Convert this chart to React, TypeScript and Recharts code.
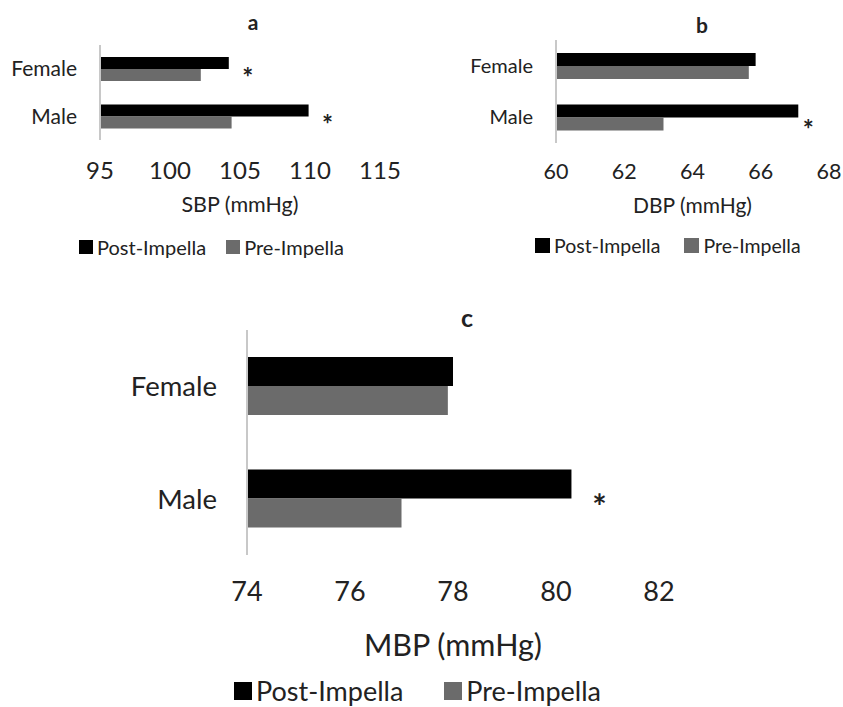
import React from 'react';
import { BarChart, Bar, XAxis, YAxis, Legend, LabelList, Label } from 'recharts';

// values (mmHg)
const categories = ['Female', 'Male'];
const sbpPost = [104.2, 109.9];
const sbpPre = [102.2, 104.4];
const dbpPost = [65.85, 67.1];
const dbpPre = [65.65, 63.15];
const mbpPost = [78.0, 80.3];
const mbpPre = [77.9, 77.0];
// significance marks
const sbpSig = ['*', '*'];
const dbpSig = ['', '*'];
const mbpSig = ['', '*'];
// axis ticks
const sbpTicks = [95, 100, 105, 110, 115];
const dbpTicks = [60, 62, 64, 66, 68];
const mbpTicks = [74, 76, 78, 80, 82];

const POST_COLOR = '#000000';
const PRE_COLOR = '#6b6b6b';
const TEXT_COLOR = '#222222';

const buildRows = (post: number[], pre: number[], sig: string[]) =>
  categories.map((name, i) => ({ name, post: post[i], pre: pre[i], sig: sig[i] }));

interface PanelProps {
  rows: { name: string; post: number; pre: number; sig: string }[];
  ticks: number[];
  title: string;
  axisTitle: string;
  left: number;
  top: number;
  width: number;
  height: number;
  margin: { top: number; right: number; left: number; bottom: number };
  yWidth: number;
  xHeight: number;
  barSize: number;
  catFont: number;
  catGap: number;
  tickFont: number;
  tickGap: number;
  axisTitleFont: number;
  axisTitleOffset: number;
  legendFont: number;
  legendSquare: number;
  legendLeft: number;
  legendTop: number;
  legendGap: number;
  titleX: number;
  titleY: number;
  titleFont: number;
  starFont: number;
  starDx: number;
  starDy: number;
}

const Panel: React.FC<PanelProps> = (p) => {
  const renderStar = (props: any) => {
    const { x, y, width, height, value } = props;
    if (!value) return null;
    return (
      <text
        x={x + width + p.starDx}
        y={y + height / 2 + p.starDy + p.starFont * 0.55}
        textAnchor="middle"
        fontSize={p.starFont}
        fontWeight="bold"
        fill={TEXT_COLOR}
      >
        {value}
      </text>
    );
  };

  const renderLegend = (props: any) => {
    const { payload } = props;
    return (
      <div style={{ display: 'flex', alignItems: 'center', whiteSpace: 'nowrap', fontSize: p.legendFont, color: TEXT_COLOR, lineHeight: 1.1 }}>
        {(payload || []).map((entry: any, i: number) => (
          <span key={i} style={{ display: 'inline-flex', alignItems: 'center', marginRight: i === 0 ? p.legendGap : 0 }}>
            <span style={{ display: 'inline-block', width: p.legendSquare, height: p.legendSquare, background: entry.color, marginRight: 4 }} />
            {entry.value}
          </span>
        ))}
      </div>
    );
  };

  return (
    <div style={{ position: 'absolute', left: p.left, top: p.top, width: p.width, height: p.height }}>
      <div style={{ position: 'absolute', left: p.titleX - 20, top: p.titleY - p.titleFont * 0.6, width: 40, textAlign: 'center', fontSize: p.titleFont, fontWeight: 'bold', color: TEXT_COLOR, lineHeight: 1.2, zIndex: 2 }}>
        {p.title}
      </div>
      <BarChart
        width={p.width}
        height={p.height}
        data={p.rows}
        layout="vertical"
        margin={p.margin}
        barGap={0}
        barSize={p.barSize}
      >
        <XAxis
          type="number"
          domain={[p.ticks[0], p.ticks[p.ticks.length - 1]]}
          ticks={p.ticks}
          interval={0}
          axisLine={false}
          tickLine={false}
          tickSize={0}
          tickMargin={p.tickGap}
          height={p.xHeight}
          tick={{ fill: TEXT_COLOR, fontSize: p.tickFont }}
        >
          <Label
            value={p.axisTitle}
            position="insideTop"
            offset={p.axisTitleOffset}
            style={{ fill: TEXT_COLOR, fontSize: p.axisTitleFont }}
          />
        </XAxis>
        <YAxis
          type="category"
          dataKey="name"
          width={p.yWidth}
          axisLine={{ stroke: '#c8c8c8', strokeWidth: 2 }}
          tickLine={false}
          tickSize={0}
          tickMargin={p.catGap}
          tick={{ fill: TEXT_COLOR, fontSize: p.catFont }}
        />
        <Legend
          layout="horizontal"
          align="center"
          verticalAlign="middle"
          content={renderLegend}
          wrapperStyle={{ left: p.legendLeft, top: p.legendTop - p.legendFont * 0.55, width: 500, height: p.legendFont * 1.1 }}
        />
        <Bar dataKey="post" name="Post-Impella" fill={POST_COLOR} isAnimationActive={false}>
          <LabelList dataKey="sig" content={renderStar} />
        </Bar>
        <Bar dataKey="pre" name="Pre-Impella" fill={PRE_COLOR} isAnimationActive={false} />
      </BarChart>
    </div>
  );
};

export default function App() {
  return (
    <div style={{ position: 'absolute', left: 0, top: 0, width: 843, height: 707, background: '#fff', fontFamily: 'Lato, sans-serif', overflow: 'hidden' }}>
      <Panel
        rows={buildRows(sbpPost, sbpPre, sbpSig)}
        ticks={sbpTicks}
        title="a"
        axisTitle="SBP (mmHg)"
        left={0}
        top={0}
        width={420}
        height={270}
        margin={{ top: 45, right: 40, left: 0, bottom: 0 }}
        yWidth={100}
        xHeight={130}
        barSize={12}
        catFont={21}
        catGap={23}
        tickFont={24}
        tickGap={22}
        axisTitleFont={21.5}
        axisTitleOffset={57}
        legendFont={20}
        legendSquare={14}
        legendLeft={79}
        legendTop={247}
        legendGap={20}
        titleX={253}
        titleY={22}
        titleFont={21}
        starFont={26}
        starDx={19}
        starDy={9.5}
      />
      <Panel
        rows={buildRows(dbpPost, dbpPre, dbpSig)}
        ticks={dbpTicks}
        title="b"
        axisTitle="DBP (mmHg)"
        left={440}
        top={0}
        width={403}
        height={270}
        margin={{ top: 40, right: 14, left: 0, bottom: 0 }}
        yWidth={116}
        xHeight={127}
        barSize={13}
        catFont={20}
        catGap={23}
        tickFont={21.5}
        tickGap={21}
        axisTitleFont={21}
        axisTitleOffset={55}
        legendFont={19.5}
        legendSquare={15}
        legendLeft={95}
        legendTop={246}
        legendGap={24}
        titleX={262}
        titleY={25}
        titleFont={21}
        starFont={26}
        starDx={10}
        starDy={13.5}
      />
      <Panel
        rows={buildRows(mbpPost, mbpPre, mbpSig)}
        ticks={mbpTicks}
        title="c"
        axisTitle="MBP (mmHg)"
        left={0}
        top={290}
        width={843}
        height={417}
        margin={{ top: 40, right: 184, left: 0, bottom: 0 }}
        yWidth={247}
        xHeight={152}
        barSize={29}
        catFont={27.5}
        catGap={30}
        tickFont={27}
        tickGap={27}
        axisTitleFont={30.5}
        axisTitleOffset={79}
        legendFont={27}
        legendSquare={18}
        legendLeft={234}
        legendTop={401}
        legendGap={41}
        titleX={467}
        titleY={27}
        titleFont={25}
        starFont={34}
        starDx={28}
        starDy={16.5}
      />
    </div>
  );
}
